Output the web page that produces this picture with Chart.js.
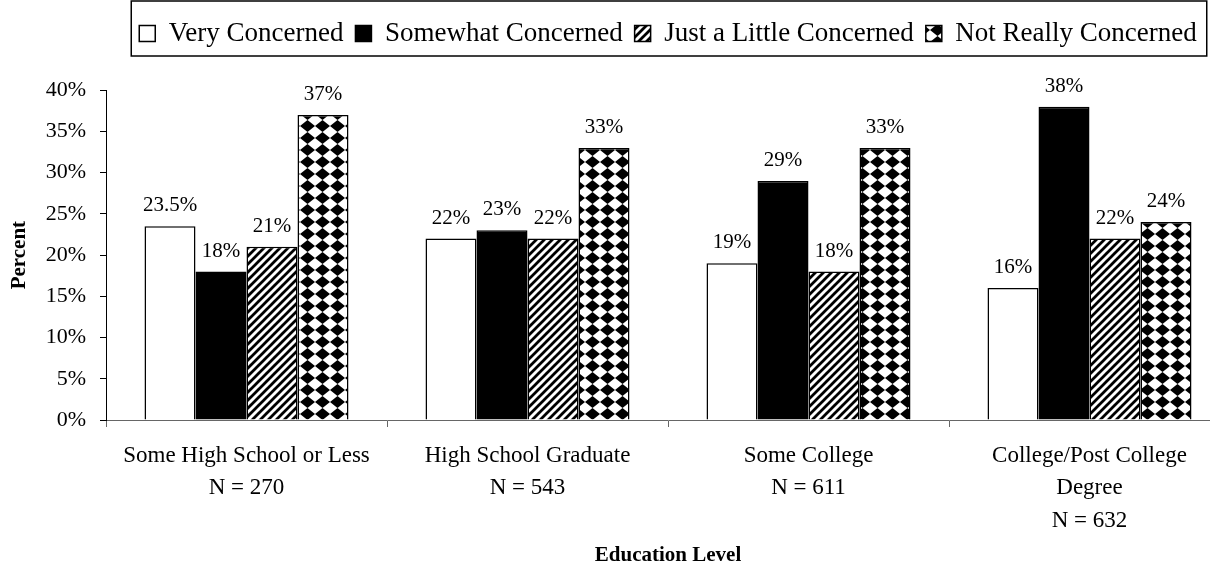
<!DOCTYPE html>
<html>
<head>
<meta charset="utf-8">
<script src="https://cdn.jsdelivr.net/npm/chart.js@4.4.1/dist/chart.umd.min.js"></script>
<style>
  html, body { margin: 0; padding: 0; background: #fff; overflow: hidden; }
  canvas { display: block; }
</style>
</head>
<body>
<canvas id="eduChart" width="1232" height="573"></canvas>
<script>
const categories = [
    ["Some High School or Less", "N = 270"],
    ["High School Graduate", "N = 543"],
    ["Some College", "N = 611"],
    ["College/Post College", "Degree", "N = 632"]
];
const seriesNames = ["Very Concerned", "Somewhat Concerned", "Just a Little Concerned", "Not Really Concerned"];
const veryConcerned = [23.5, 22, 19, 16];
const somewhatConcerned = [18, 23, 29, 38];
const littleConcerned = [21, 22, 18, 22];
const notReallyConcerned = [37, 33, 33, 24];
const yMin = 0, yMax = 40, yStep = 5;

const serif = "'Liberation Serif', 'Times New Roman', serif";
Chart.defaults.font.family = serif;
Chart.defaults.color = '#000';

// fill patterns
function hatchPattern() {
    const c = document.createElement('canvas');
    c.width = 8; c.height = 8;
    const g = c.getContext('2d');
    g.fillStyle = '#fff';
    g.fillRect(0, 0, 8, 8);
    g.strokeStyle = '#000';
    g.lineWidth = 2.8;
    g.beginPath();
    g.moveTo(-2, 10); g.lineTo(10, -2);
    g.moveTo(-6, 6); g.lineTo(6, -6);
    g.moveTo(2, 14); g.lineTo(14, 2);
    g.stroke();
    return g.createPattern(c, 'repeat');
}

function diamondPattern() {
    const w = 15, h = 12;
    const c = document.createElement('canvas');
    c.width = w; c.height = h;
    const g = c.getContext('2d');
    g.fillStyle = '#fff';
    g.fillRect(0, 0, w, h);
    g.fillStyle = '#000';
    g.beginPath();
    g.moveTo(w / 2, 0);
    g.lineTo(w, h / 2);
    g.lineTo(w / 2, h);
    g.lineTo(0, h / 2);
    g.closePath();
    g.fill();
    return g.createPattern(c, 'repeat');
}

const fills = ['#fff', '#000', hatchPattern(), diamondPattern()];
const values = [veryConcerned, somewhatConcerned, littleConcerned, notReallyConcerned];

// value labels above the bars
const barLabels = {
    id: 'barLabels',
    afterDatasetsDraw(chart) {
        const ctx = chart.ctx;
        ctx.save();
        ctx.font = '21px ' + serif;
        ctx.fillStyle = '#000';
        ctx.textAlign = 'center';
        ctx.textBaseline = 'alphabetic';
        chart.data.datasets.forEach((ds, i) => {
            chart.getDatasetMeta(i).data.forEach((bar, j) => {
                ctx.fillText(ds.data[j] + '%', bar.x, bar.y - 15);
            });
        });
        ctx.restore();
    }
};

// frame round the legend
const legendFrame = {
    id: 'legendFrame',
    afterDraw(chart) {
        const lg = chart.legend;
        if (!lg || !lg.legendHitBoxes.length) return;
        const hb = lg.legendHitBoxes;
        const last = hb[hb.length - 1];
        const ctx = chart.ctx;
        ctx.save();
        ctx.strokeStyle = '#000';
        ctx.lineWidth = 1.5;
        const x0 = hb[0].left - 8;
        const x1 = last.left + last.width + 10;
        ctx.strokeRect(x0, 1, x1 - x0, lg.bottom - 2);
        ctx.restore();
    }
};

new Chart(document.getElementById('eduChart'), {
    type: 'bar',
    data: {
        labels: categories,
        datasets: seriesNames.map((name, i) => ({
            label: name,
            data: values[i],
            backgroundColor: fills[i],
            borderColor: '#000',
            borderWidth: 1.5,
            categoryPercentage: 0.726,
            barPercentage: 1
        }))
    },
    options: {
        responsive: false,
        animation: false,
        layout: { padding: { top: 8, right: 2, left: 0, bottom: 0 } },
        plugins: {
            legend: {
                position: 'top',
                align: 'center',
                fullSize: false,
                labels: {
                    boxWidth: 16,
                    boxHeight: 16,
                    padding: 12,
                    color: '#000',
                    font: { size: 27 }
                }
            },
            title: {
                // empty spacer between legend and plot
                display: true,
                text: '',
                position: 'top',
                weight: 500,
                fullSize: false,
                font: { size: 1 },
                padding: { top: 0, bottom: 32 }
            },
            tooltip: { enabled: false }
        },
        scales: {
            x: {
                grid: {
                    display: true,
                    drawOnChartArea: false,
                    drawTicks: true,
                    tickLength: 7,
                    color: '#666',
                    offset: true
                },
                border: { color: '#666', width: 1 },
                ticks: {
                    color: '#000',
                    font: { size: 23, lineHeight: 1.4 },
                    padding: 13,
                    maxRotation: 0,
                    autoSkip: false
                },
                title: {
                    display: true,
                    text: 'Education Level',
                    color: '#000',
                    font: { size: 21, weight: 'bold' },
                    padding: { top: 0, bottom: 5 }
                },
                afterFit(scale) { scale.height = 153; }
            },
            y: {
                min: yMin,
                max: yMax,
                grid: {
                    drawOnChartArea: false,
                    drawTicks: true,
                    tickLength: 6,
                    color: '#000'
                },
                border: { color: '#000', width: 1 },
                ticks: {
                    stepSize: yStep,
                    color: '#000',
                    font: { size: 22 },
                    padding: 14,
                    callback: v => v + '%'
                },
                title: {
                    display: true,
                    text: 'Percent',
                    color: '#000',
                    font: { size: 21, weight: 'bold' },
                    padding: { top: 7, bottom: 0 }
                },
                afterFit(scale) { scale.width = 106; }
            }
        }
    },
    plugins: [barLabels, legendFrame]
});
</script>
</body>
</html>
